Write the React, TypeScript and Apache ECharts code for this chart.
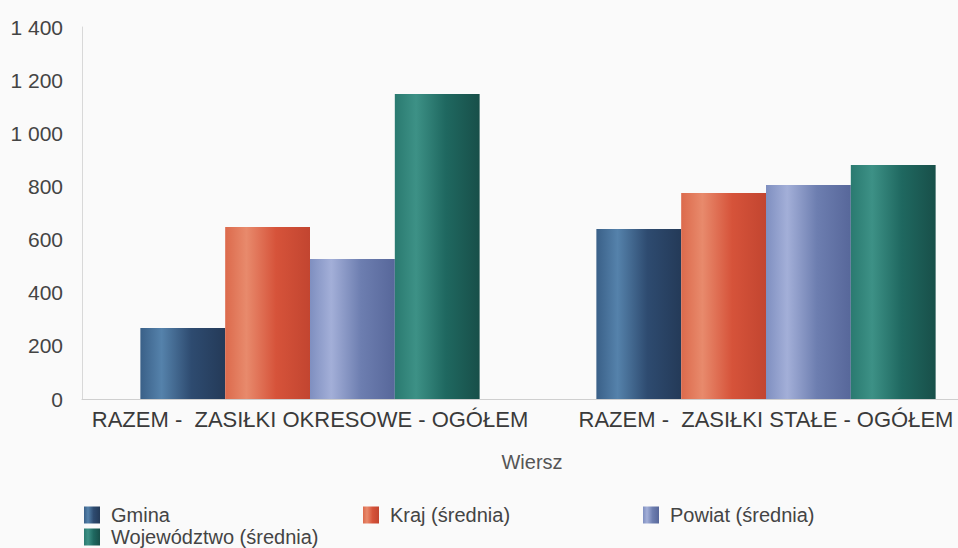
import React, { useEffect, useRef } from "react";
import * as echarts from "echarts";

const categories = [
  "RAZEM -  ZASIŁKI OKRESOWE - OGÓŁEM",
  "RAZEM -  ZASIŁKI STAŁE - OGÓŁEM",
];
const seriesNames = ["Gmina", "Kraj (średnia)", "Powiat (średnia)", "Województwo (średnia)"];
const gmina = [267, 640];
const kraj = [647, 775];
const powiat = [527, 805];
const wojewodztwo = [1148, 881];
const yTicks = [0, 200, 400, 600, 800, 1000, 1200, 1400];

const palettes = [
  ["#3a6088", "#5582ab", "#2e4b70", "#243a58"],
  ["#dc6a4c", "#e88a6c", "#d6533a", "#c24530"],
  ["#7f8fc0", "#a3afd8", "#6d7eb0", "#57679a"],
  ["#2a7a70", "#3d9186", "#1f6860", "#184f49"],
];

function grad(p: string[]) {
  return new echarts.graphic.LinearGradient(0, 0, 1, 0, [
    { offset: 0, color: p[0] },
    { offset: 0.25, color: p[1] },
    { offset: 0.6, color: p[2] },
    { offset: 1, color: p[3] },
  ]);
}

export default function App() {
  const ref = useRef<HTMLDivElement>(null);
  useEffect(() => {
    document.body.style.margin = "0";
    if (!ref.current) return;
    const chart = echarts.init(ref.current, null, { renderer: "svg" });
    const data = [gmina, kraj, powiat, wojewodztwo];
    const legendPos = [
      { left: 84, top: 505 },
      { left: 363, top: 505 },
      { left: 643, top: 505 },
      { left: 84, top: 527 },
    ];
    chart.setOption({
      animation: false,
      backgroundColor: "#fafafa",
      textStyle: { fontFamily: "Liberation Sans, Arial, sans-serif" },
      grid: { left: 82, right: 0, top: 27, bottom: 149, containLabel: false },
      xAxis: {
        type: "category",
        data: categories,
        name: "Wiersz",
        nameLocation: "middle",
        nameGap: 53,
        nameTextStyle: { fontSize: 20, color: "#555", padding: [0, 12, 0, 0] },
        axisLine: { lineStyle: { color: "#cfcfcf" } },
        axisTick: { show: false },
        axisLabel: { fontSize: 22, color: "#3a3a3a", margin: 9, interval: 0 },
      },
      yAxis: {
        type: "value",
        min: yTicks[0],
        max: yTicks[yTicks.length - 1],
        interval: 200,
        axisLine: { show: true, lineStyle: { color: "#d8d8d8" } },
        axisTick: { show: false },
        splitLine: { show: false },
        axisLabel: {
          fontSize: 21,
          color: "#444",
          margin: 19,
          formatter: (v: number) => String(v).replace(/\B(?=(\d{3})+(?!\d))/g, " "),
        },
      },
      legend: seriesNames.map((n, i) => ({
        data: [n],
        left: legendPos[i].left,
        top: legendPos[i].top,
        icon: "rect",
        itemWidth: 16,
        itemHeight: 17,
        itemGap: 6,
        padding: 0,
        textStyle: { fontSize: 20, color: "#444", padding: [0, 0, 0, 6] },
      })),
      series: seriesNames.map((n, i) => ({
        name: n,
        type: "bar",
        data: data[i],
        barGap: "0%",
        barCategoryGap: "25.6%",
        itemStyle: { color: grad(palettes[i]) },
      })),
    });
    return () => chart.dispose();
  }, []);
  return (
    <div style={{ width: 958, height: 548, overflow: "hidden", position: "relative" }}>
      <div ref={ref} style={{ width: 994, height: 548 }} />
    </div>
  );
}
